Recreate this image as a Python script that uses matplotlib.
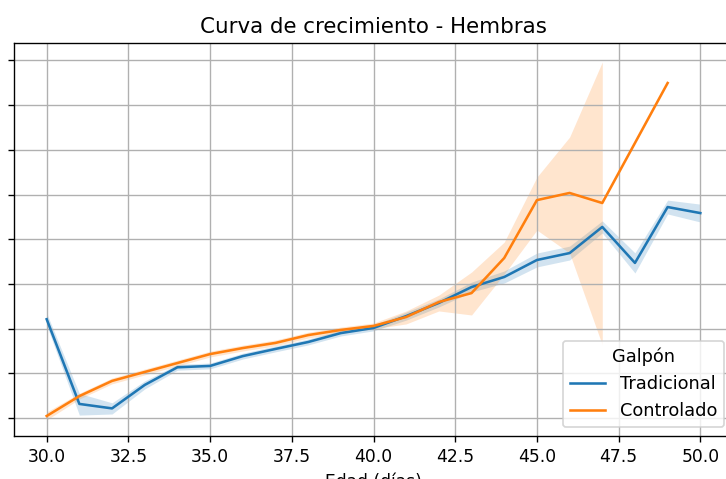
import numpy as np
import matplotlib
matplotlib.use("Agg")
import matplotlib.pyplot as plt

# peso promedio (kg) por dia de edad, hembras
dias_trad = [30, 31, 32, 33, 34, 35, 36, 37, 38, 39, 40,
             41, 42, 43, 44, 45, 46, 47, 48, 49, 50]
peso_trad = [1.842, 1.463, 1.443, 1.548, 1.627, 1.633, 1.677, 1.709, 1.740, 1.780, 1.803,
             1.856, 1.915, 1.986, 2.031, 2.107, 2.138, 2.255, 2.094, 2.344, 2.317]
ic_bajo_trad = [1.815, 1.413, 1.418, 1.530, 1.614, 1.620, 1.664, 1.696, 1.727, 1.767, 1.790,
                1.838, 1.897, 1.964, 2.004, 2.076, 2.107, 2.228, 2.049, 2.313, 2.277]
ic_alto_trad = [1.869, 1.510, 1.468, 1.566, 1.640, 1.646, 1.690, 1.722, 1.753, 1.793, 1.816,
                1.874, 1.933, 2.008, 2.058, 2.138, 2.169, 2.282, 2.139, 2.375, 2.357]

dias_ctrl = [30, 31, 32, 33, 34, 35, 36, 37, 38, 39, 40,
             41, 42, 43, 44, 45, 46, 47, 49]
peso_ctrl = [1.409, 1.498, 1.566, 1.606, 1.646, 1.686, 1.713, 1.736, 1.771, 1.794, 1.812,
             1.852, 1.919, 1.959, 2.116, 2.375, 2.407, 2.362, 2.899]
ic_bajo_ctrl = [1.391, 1.485, 1.553, 1.593, 1.633, 1.673, 1.700, 1.723, 1.758, 1.781, 1.799,
                1.821, 1.879, 1.861, 2.044, 2.241, 2.138, 1.727, np.nan]
ic_alto_ctrl = [1.427, 1.511, 1.579, 1.619, 1.659, 1.699, 1.726, 1.749, 1.784, 1.807, 1.825,
                1.879, 1.950, 2.053, 2.187, 2.478, 2.657, 2.993, np.nan]

azul = "#1f77b4"
naranja = "#ff7f0e"

fig = plt.figure(figsize=(726 / 123, 479 / 123), dpi=123)
ax = fig.add_axes([14 / 726, 43 / 479, 719 / 726, 393 / 479])

ax.fill_between(dias_trad, ic_bajo_trad, ic_alto_trad, color=azul, alpha=0.2, linewidth=0)
ax.plot(dias_trad, peso_trad, color=azul, lw=1.5, label="Tradicional")
ax.fill_between(dias_ctrl, ic_bajo_ctrl, ic_alto_ctrl, color=naranja, alpha=0.2, linewidth=0)
ax.plot(dias_ctrl, peso_ctrl, color=naranja, lw=1.5, label="Controlado")

ax.set_xlim(29, 51)
ax.set_ylim(1.3195, 3.078)
ax.set_xticks(np.arange(30, 50.1, 2.5))
ax.set_yticks(np.arange(1.4, 3.01, 0.2))
ax.tick_params(axis="y", pad=14)
ax.set_title("Curva de crecimiento - Hembras", fontsize=12.5)
ax.set_xlabel("Edad (días)")
ax.set_ylabel("Peso (kg)")
ax.grid(True)
ax.legend(title="Galpón", loc="lower right", fontsize=10.4, title_fontsize=10.4)

fig.savefig("out.png", dpi=123)
